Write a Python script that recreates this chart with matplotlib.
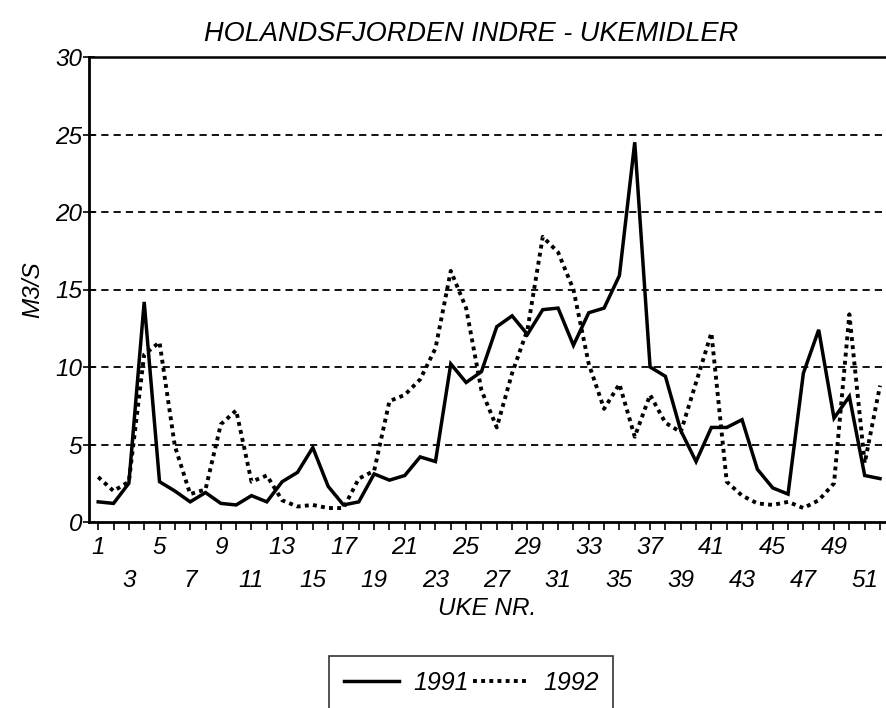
import matplotlib
matplotlib.use("Agg")
import matplotlib.pyplot as plt

# weekly means (m3/s)
weeks = list(range(1, 53))
flow_1991 = [1.3, 1.2, 2.5, 14.2, 2.6, 2.0, 1.3, 1.9, 1.2, 1.1,
             1.7, 1.3, 2.6, 3.2, 4.8, 2.3, 1.1, 1.3, 3.1, 2.7,
             3.0, 4.2, 3.9, 10.2, 9.0, 9.7, 12.6, 13.3, 12.1, 13.7,
             13.8, 11.4, 13.5, 13.8, 15.9, 24.5, 10.0, 9.4, 5.9, 3.9,
             6.1, 6.1, 6.6, 3.4, 2.2, 1.8, 9.6, 12.4, 6.7, 8.1,
             3.0, 2.8]
flow_1992 = [2.9, 2.0, 2.6, 10.8, 11.6, 4.9, 1.8, 2.1, 6.3, 7.2,
             2.6, 3.0, 1.4, 1.0, 1.1, 0.9, 0.9, 2.8, 3.3, 7.8,
             8.2, 9.2, 11.2, 16.2, 13.8, 8.5, 6.1, 9.6, 12.4, 18.4,
             17.4, 15.0, 10.2, 7.3, 8.9, 5.5, 8.2, 6.4, 5.8, 9.0,
             12.2, 2.6, 1.7, 1.2, 1.1, 1.3, 0.9, 1.4, 2.5, 13.4,
             3.8, 8.8]
y_ticks = [0, 5, 10, 15, 20, 25, 30]

plt.rcParams['font.family'] = ['Liberation Sans', 'DejaVu Sans']
plt.rcParams['font.style'] = 'italic'

fig = plt.figure(figsize=(8.86, 7.08), dpi=100)
ax = fig.add_axes([89 / 886, 186 / 708, 797 / 886, 465 / 708])

ax.plot(weeks, flow_1991, color='black', lw=2.5, label='1991',
        solid_joinstyle='miter')
ax.plot(weeks, flow_1992, color='black', lw=2.8, linestyle=(0, (1, 1.1)),
        label='1992')

ax.set_xlim(0.4, 52.39)
ax.set_ylim(0, 30)

# grid
for v in y_ticks[1:-1]:
    ax.axhline(v, color='black', lw=1.3, linestyle=(0, (4, 2.8)), zorder=0)

ax.spines['right'].set_visible(False)
ax.spines['left'].set_linewidth(2.0)
ax.spines['bottom'].set_linewidth(2.0)
ax.spines['top'].set_linewidth(1.8)

ax.set_yticks(y_ticks)
ax.set_yticklabels([str(v) for v in y_ticks], fontsize=17.5)
ax.tick_params(axis='y', direction='inout', length=8, width=1.2, pad=1)

labels = []
for w in weeks:
    if w % 4 == 1:
        labels.append(str(w))
    elif w % 4 == 3:
        labels.append('\n' + str(w))
    else:
        labels.append('')
ax.set_xticks(weeks)
ax.set_xticklabels(labels, fontsize=17.5)
for t in ax.get_xticklabels():
    t.set_linespacing(1.55)
ax.tick_params(axis='x', direction='out', length=6, width=1.2, pad=4)

ax.set_ylabel('M3/S', fontsize=17.5, labelpad=8)
ax.set_xlabel('UKE NR.', fontsize=17.5, labelpad=4)
fig.text(471 / 886, 1 - 34 / 708, 'HOLANDSFJORDEN INDRE - UKEMIDLER',
         fontsize=19.5, ha='center', va='center')

leg = fig.legend(loc='upper center', bbox_to_anchor=(471 / 886, 1 - 656 / 708),
                 ncol=2, fontsize=18, frameon=True, fancybox=False,
                 handlelength=2.2, handletextpad=0.6, columnspacing=0.15,
                 borderpad=0.6, borderaxespad=0)
leg.get_frame().set_edgecolor('black')
leg.get_frame().set_linewidth(1.2)

plt.savefig('out.png', dpi=100)
